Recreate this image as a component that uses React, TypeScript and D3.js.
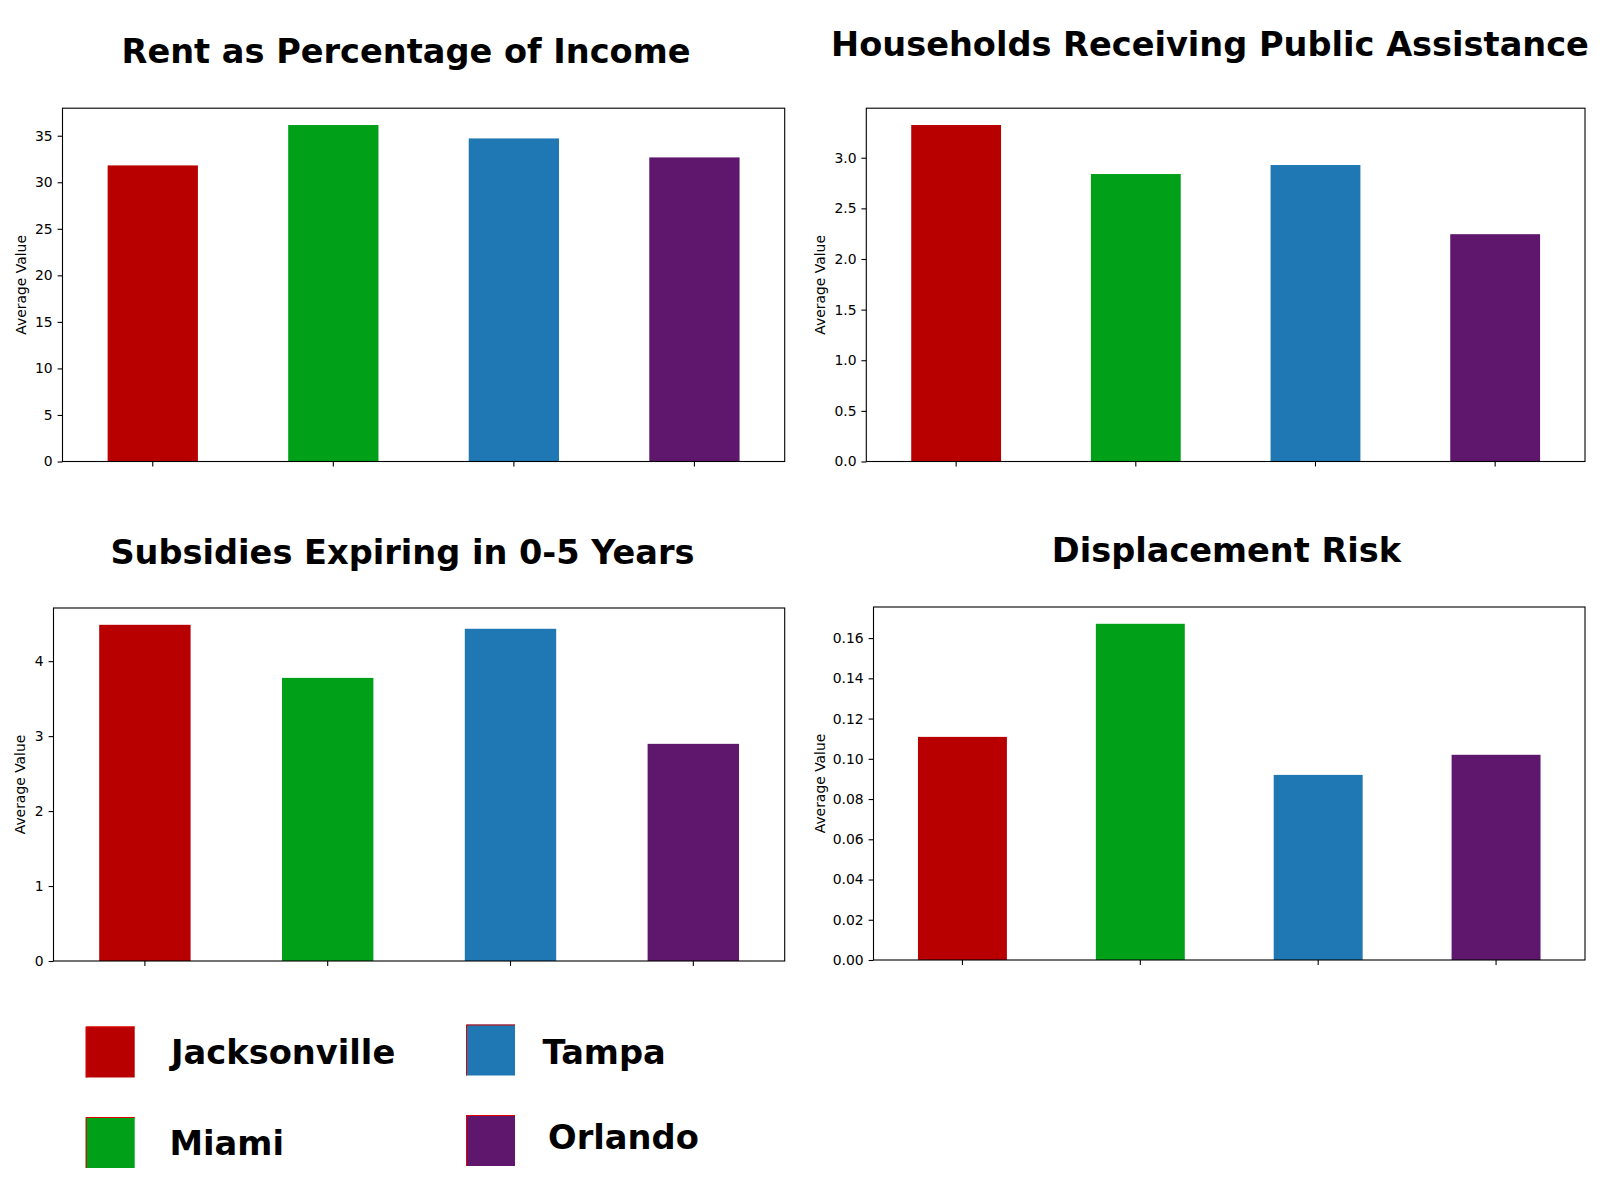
import React, { useEffect, useRef } from 'react';
import * as d3 from 'd3';

// data
const cities = ['Jacksonville', 'Miami', 'Tampa', 'Orlando'];
const cityColors = ['#b90000', '#00a019', '#1f77b4', '#5f176d'];

const rentPct = [31.81, 36.15, 34.71, 32.67];
const publicAssist = [3.323, 2.839, 2.928, 2.245];
const subsidiesExpiring = [4.485, 3.777, 4.432, 2.897];
const displacementRisk = [0.1109, 0.1671, 0.092, 0.102];

const panelTitles = [
  'Rent as Percentage of Income',
  'Households Receiving Public Assistance',
  'Subsidies Expiring in 0-5 Years',
  'Displacement Risk',
];
const tickSteps = [5, 0.5, 1, 0.02];
const tickFormats = ['d', '.1f', 'd', '.2f'];

// layout (pixels)
const panels = [
  { left: 62.5, right: 784.7, top: 108.2, bottom: 461.5, titleX: 406, titleY: 62.5, ylabelX: 21 },
  { left: 866.3, right: 1585, top: 108.2, bottom: 461.5, titleX: 1210, titleY: 55.5, ylabelX: 820.5 },
  { left: 53.5, right: 784.7, top: 608, bottom: 961, titleX: 402.5, titleY: 563.5, ylabelX: 20.5 },
  { left: 873.5, right: 1585, top: 607, bottom: 960, titleX: 1226.5, titleY: 562.3, ylabelX: 820 },
];

const legendItems = [
  { i: 0, px: 85.7, py: 1026.5, tx: 171, ty: 1064 },
  { i: 1, px: 85.7, py: 1117, tx: 169.5, ty: 1155 },
  { i: 2, px: 466, py: 1024.5, tx: 542.5, ty: 1064 },
  { i: 3, px: 466, py: 1115, tx: 548, ty: 1149 },
];

const FONT = '"DejaVu Sans", sans-serif';

export default function App() {
  const svgRef = useRef<SVGSVGElement>(null);

  useEffect(() => {
    document.body.style.margin = '0';
    if (!svgRef.current) return;
    const svg = d3.select(svgRef.current);
    svg.selectAll('*').remove();

    const series = [rentPct, publicAssist, subsidiesExpiring, displacementRisk];

    series.forEach((values, k) => {
      const p = panels[k];
      const ymax = (d3.max(values) || 1) * 1.05;

      const x = d3.scaleBand<string>()
        .domain(cities)
        .range([p.left, p.right])
        .paddingInner(0.5)
        .paddingOuter(0.25);
      const y = d3.scaleLinear().domain([0, ymax]).range([p.bottom, p.top]);

      const g = svg.append('g');

      g.selectAll('rect.bar')
        .data(values)
        .join('rect')
        .attr('class', 'bar')
        .attr('x', (_, i) => x(cities[i]) as number)
        .attr('width', x.bandwidth())
        .attr('y', d => y(d))
        .attr('height', d => y(0) - y(d))
        .attr('fill', (_, i) => cityColors[i]);

      const yTicks = d3.range(0, ymax, tickSteps[k]).map(v => +v.toFixed(4));
      const yAxis = d3.axisLeft(y)
        .tickValues(yTicks)
        .tickFormat(d3.format(tickFormats[k]) as any)
        .tickSize(4.9)
        .tickPadding(4.9);
      g.append('g')
        .attr('transform', `translate(${p.left},0)`)
        .call(yAxis)
        .call(s => s.select('.domain').remove())
        .call(s => s.selectAll('text')
          .attr('font-family', FONT)
          .attr('font-size', 13.9)
          .attr('fill', '#000'))
        .call(s => s.selectAll('line').attr('stroke', '#000').attr('stroke-width', 1.1));

      const xAxis = d3.axisBottom(x).tickSize(4.9).tickFormat(() => '');
      g.append('g')
        .attr('transform', `translate(0,${p.bottom})`)
        .call(xAxis)
        .call(s => s.select('.domain').remove())
        .call(s => s.selectAll('line').attr('stroke', '#000').attr('stroke-width', 1.1));

      // frame
      g.append('rect')
        .attr('x', p.left)
        .attr('y', p.top)
        .attr('width', p.right - p.left)
        .attr('height', p.bottom - p.top)
        .attr('fill', 'none')
        .attr('stroke', '#000')
        .attr('stroke-width', 1.1);

      g.append('text')
        .attr('transform', `translate(${p.ylabelX},${(p.top + p.bottom) / 2}) rotate(-90)`)
        .attr('text-anchor', 'middle')
        .attr('dy', '0.35em')
        .attr('font-family', FONT)
        .attr('font-size', 13.9)
        .text('Average Value');

      g.append('text')
        .attr('x', p.titleX)
        .attr('y', p.titleY)
        .attr('text-anchor', 'middle')
        .attr('font-family', FONT)
        .attr('font-weight', 'bold')
        .attr('font-size', 33.6)
        .text(panelTitles[k]);
    });

    // legend
    const leg = svg.append('g');
    legendItems.forEach(it => {
      leg.append('rect')
        .attr('x', it.px)
        .attr('y', it.py)
        .attr('width', 49)
        .attr('height', 51)
        .attr('fill', cityColors[it.i]);
      leg.append('path')
        .attr('d', `M${it.px + 0.5},${it.py + 51}V${it.py + 0.5}H${it.px + 49}`)
        .attr('fill', 'none')
        .attr('stroke', '#e00000')
        .attr('stroke-width', 1);
      leg.append('text')
        .attr('x', it.tx)
        .attr('y', it.ty)
        .attr('font-family', FONT)
        .attr('font-weight', 'bold')
        .attr('font-size', 33.7)
        .text(cities[it.i]);
    });
  }, []);

  return <svg ref={svgRef} width={1600} height={1200} style={{ display: 'block', background: '#fff' }} />;
}
